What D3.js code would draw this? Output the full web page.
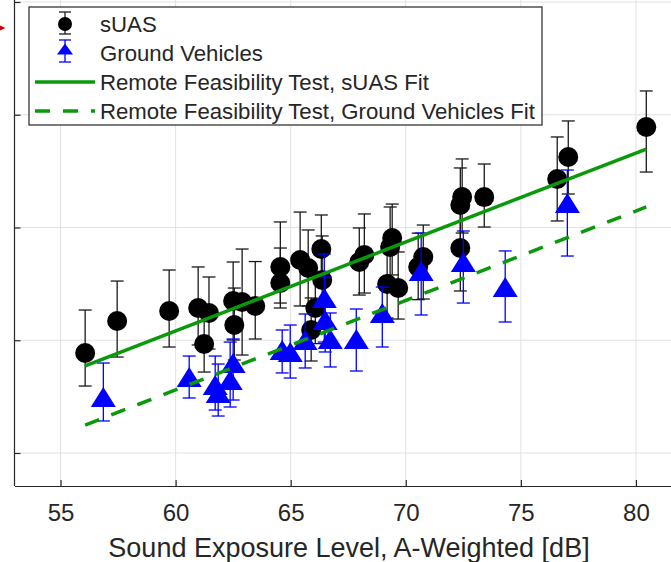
<!DOCTYPE html>
<html>
<head>
<meta charset="utf-8">
<script src="https://cdn.jsdelivr.net/npm/d3@7"></script>
<style>
  body { margin: 0; background: #fff; }
  svg { display: block; font-family: "Liberation Sans", Arial, sans-serif; }
</style>
</head>
<body>
<svg id="chart" width="671" height="562"></svg>
<script>
// sUAS: x, y, upper and lower error bar ends
const suasX  = [56.07, 57.46, 59.72, 60.98, 61.45, 61.24, 62.50, 62.89, 62.55, 63.46, 64.55, 64.55, 65.41, 65.76, 66.33, 66.37, 66.07, 65.89, 67.98, 68.20, 69.41, 69.32, 69.19, 69.67, 70.76, 70.54, 72.45, 72.37, 72.37, 73.41, 76.58, 77.06, 80.45];
const suasY  = [1.887, 2.171, 2.259, 2.286, 2.242, 1.967, 2.348, 2.339, 2.135, 2.304, 2.650, 2.508, 2.712, 2.641, 2.809, 2.534, 2.286, 2.091, 2.694, 2.756, 2.907, 2.827, 2.499, 2.463, 2.738, 2.650, 3.270, 3.200, 2.818, 3.270, 3.430, 3.625, 3.891];
const suasHi = [2.268, 2.525, 2.623, 2.650, 2.561, 2.215, 2.694, 2.809, 2.463, 2.698, 3.049, 2.818, 3.137, 2.978, 3.111, 2.925, 2.600, 2.375, 2.996, 3.120, 3.208, 3.182, 2.800, 2.783, 3.022, 2.950, 3.608, 3.528, 3.155, 3.563, 3.803, 3.945, 4.211];
const suasLo = [1.594, 1.851, 1.940, 1.958, 1.922, 1.718, 2.002, 1.869, 1.825, 2.011, 2.330, 2.286, 2.304, 2.304, 2.508, 2.144, 1.970, 1.816, 2.401, 2.419, 2.579, 2.490, 2.197, 2.188, 2.366, 2.360, 2.951, 2.871, 2.437, 3.004, 3.058, 3.297, 3.492];

// Ground vehicles
const gvX  = [56.86, 60.59, 61.72, 61.85, 62.37, 62.50, 64.63, 64.98, 65.63, 66.46, 66.50, 66.72, 67.85, 68.98, 70.67, 72.50, 74.32, 77.02];
const gvY  = [1.497, 1.674, 1.603, 1.532, 1.647, 1.798, 1.914, 1.896, 2.002, 2.375, 2.180, 2.011, 2.011, 2.242, 2.614, 2.694, 2.472, 3.217];
const gvHi = [1.798, 1.860, 1.860, 1.789, 1.984, 2.011, 2.091, 2.135, 2.233, 2.765, 2.561, 2.242, 2.277, 2.472, 2.951, 2.969, 2.792, 3.510];
const gvLo = [1.284, 1.488, 1.381, 1.328, 1.408, 1.470, 1.710, 1.665, 1.754, 1.984, 1.896, 1.763, 1.727, 1.940, 2.224, 2.330, 2.162, 2.747];

// fit line end points
const fitX = [56.07, 80.45];
const suasFitY = [1.772, 3.696];
const gvFitY = [1.248, 3.182];

const xTicks = [55, 60, 65, 70, 75, 80];
const yTicks = [1, 2, 3, 4, 5];
const legendLabels = ["sUAS", "Ground Vehicles", "Remote Feasibility Test, sUAS Fit", "Remote Feasibility Test, Ground Vehicles Fit"];

const axisColor = "#262626";
const green = "#0a990a";
const blue = "#0000ff";

const svg = d3.select("#chart");
const left = 14.5, bottom = 486;

const x = d3.scaleLinear().domain([53, 82]).range([left, left + 29 * 23.016]);
const y = d3.scaleLinear().domain([1, 5]).range([453, 2]);

// grid
const grid = svg.append("g").attr("stroke", "#e2e2e2").attr("stroke-width", 1);
grid.selectAll(".vg").data(xTicks).enter().append("line")
  .attr("x1", d => x(d)).attr("x2", d => x(d))
  .attr("y1", 0).attr("y2", bottom);
grid.selectAll(".hg").data(yTicks).enter().append("line")
  .attr("x1", left).attr("x2", 671)
  .attr("y1", d => y(d)).attr("y2", d => y(d));

// axes
const xAxis = svg.append("g")
  .attr("transform", `translate(0,${bottom})`)
  .call(d3.axisBottom(x).tickValues(xTicks).tickSize(-6).tickSizeOuter(0).tickPadding(18));
const yAxis = svg.append("g")
  .attr("transform", `translate(${left},0)`)
  .call(d3.axisLeft(y).tickValues(yTicks).tickSize(-6).tickSizeOuter(0).tickFormat(""));
yAxis.select(".domain").attr("d", `M0,${bottom}V0`);
[xAxis, yAxis].forEach(a => {
  a.selectAll("path, line").attr("stroke", axisColor).attr("stroke-width", 1.2);
  a.selectAll("text").attr("fill", axisColor).attr("font-size", 24)
    .attr("font-family", "Liberation Sans, Arial, sans-serif");
});

svg.append("text")
  .attr("x", 349).attr("y", 557)
  .attr("text-anchor", "middle")
  .attr("font-size", 27)
  .attr("fill", axisColor)
  .text("Sound Exposure Level, A-Weighted [dB]");

// error bars
function errorBars(g, xs, lo, hi, color) {
  const idx = d3.range(xs.length);
  g.selectAll(".stem").data(idx).enter().append("line")
    .attr("x1", i => x(xs[i])).attr("x2", i => x(xs[i]))
    .attr("y1", i => y(lo[i])).attr("y2", i => y(hi[i]))
    .attr("stroke", color).attr("stroke-width", 1.3);
  [lo, hi].forEach(v => {
    g.selectAll(null).data(idx).enter().append("line")
      .attr("x1", i => x(xs[i]) - 6.5).attr("x2", i => x(xs[i]) + 6.5)
      .attr("y1", i => y(v[i])).attr("y2", i => y(v[i]))
      .attr("stroke", color).attr("stroke-width", 1.3);
  });
}

const triangle = (w, h) => `M0,${-h / 2}L${w / 2},${h / 2}L${-w / 2},${h / 2}Z`;

const suasG = svg.append("g");
errorBars(suasG, suasX, suasLo, suasHi, "#1a1a1a");
suasG.selectAll("circle").data(d3.range(suasX.length)).enter().append("circle")
  .attr("cx", i => x(suasX[i])).attr("cy", i => y(suasY[i]))
  .attr("r", 10).attr("fill", "#000");

const gvG = svg.append("g");
errorBars(gvG, gvX, gvLo, gvHi, blue);
gvG.selectAll("path").data(d3.range(gvX.length)).enter().append("path")
  .attr("transform", i => `translate(${x(gvX[i])},${y(gvY[i])})`)
  .attr("d", triangle(25, 20)).attr("fill", blue);

// fits
const line = d3.line().x(d => x(d[0])).y(d => y(d[1]));
svg.append("path").datum(d3.zip(fitX, suasFitY)).attr("d", line)
  .attr("fill", "none").attr("stroke", green).attr("stroke-width", 3.5);
svg.append("path").datum(d3.zip(fitX, gvFitY)).attr("d", line)
  .attr("fill", "none").attr("stroke", green).attr("stroke-width", 3.5)
  .attr("stroke-dasharray", "15,13");

// legend
const lg = svg.append("g");
lg.append("rect").attr("x", 29).attr("y", 7).attr("width", 513).attr("height", 118)
  .attr("fill", "#fff").attr("stroke", axisColor).attr("stroke-width", 1.2);
const rowY = [24, 53, 82, 111];
lg.selectAll("text").data(legendLabels).enter().append("text")
  .attr("x", 100).attr("y", (d, i) => rowY[i] + 8)
  .attr("font-size", 22.2).attr("fill", axisColor).text(d => d);

const ic = lg.append("g").attr("stroke-width", 1.3);
ic.append("line").attr("x1", 65).attr("x2", 65).attr("y1", 12).attr("y2", 34).attr("stroke", "#1a1a1a");
[12, 34].forEach(v => ic.append("line").attr("x1", 59).attr("x2", 71).attr("y1", v).attr("y2", v).attr("stroke", "#1a1a1a"));
ic.append("circle").attr("cx", 65).attr("cy", 24).attr("r", 7).attr("fill", "#000");
ic.append("line").attr("x1", 65).attr("x2", 65).attr("y1", 40).attr("y2", 62).attr("stroke", blue);
[40, 62].forEach(v => ic.append("line").attr("x1", 59).attr("x2", 71).attr("y1", v).attr("y2", v).attr("stroke", blue));
ic.append("path").attr("transform", "translate(65,49)").attr("d", triangle(16, 11)).attr("fill", blue);
lg.append("line").attr("x1", 35).attr("x2", 95).attr("y1", 82).attr("y2", 82)
  .attr("stroke", green).attr("stroke-width", 3.5);
lg.append("line").attr("x1", 35).attr("x2", 95).attr("y1", 111).attr("y2", 111)
  .attr("stroke", green).attr("stroke-width", 3.5).attr("stroke-dasharray", "15,13");

// small red marker at left edge
svg.append("path").attr("d", "M0,25.5L5.5,28L0,30.5Z").attr("fill", "#d00000");
</script>
</body>
</html>
